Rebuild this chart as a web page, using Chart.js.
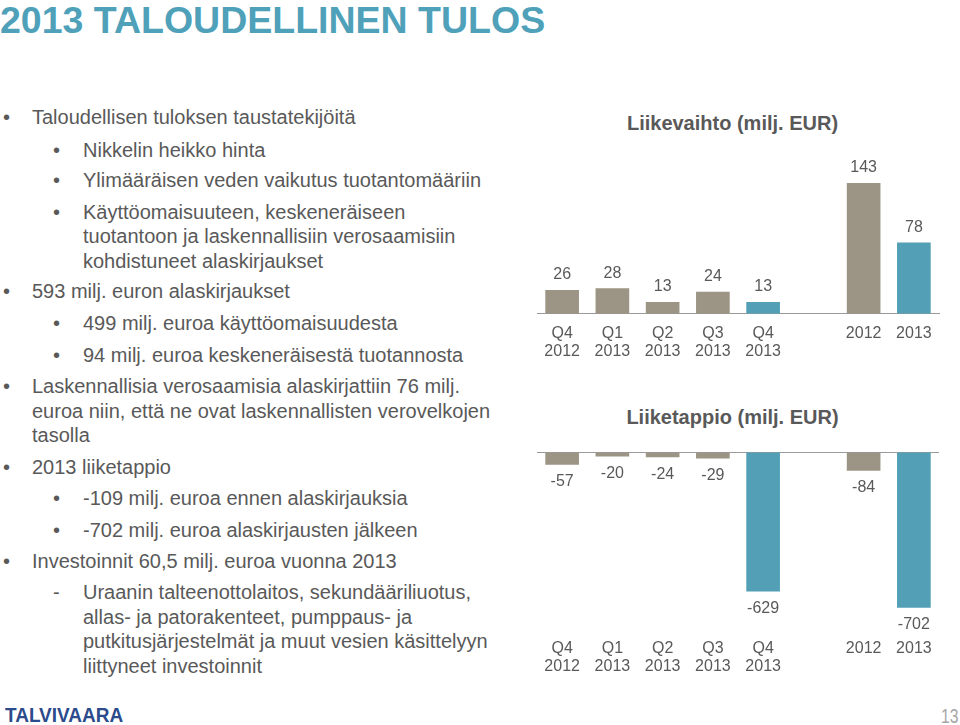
<!DOCTYPE html>
<html>
<head>
<meta charset="utf-8">
<script src="https://cdn.jsdelivr.net/npm/chart.js@4"></script>
<style>
  html, body { margin:0; padding:0; background:#fff; }
  body { width:960px; height:725px; position:relative; overflow:hidden; font-family:"Liberation Sans", Arial, sans-serif; }
  #title { position:absolute; left:0px; top:-1.5px; font-size:37.5px; font-weight:bold; color:#4fa1ba; white-space:nowrap; line-height:42px; }
  .p { position:absolute; font-size:20px; color:#595959; line-height:24.5px; white-space:nowrap; }
  .b { position:absolute; font-size:20px; color:#595959; line-height:24.5px; }
  .ct { position:absolute; width:300px; margin-left:-150px; text-align:center; font-size:20px; font-weight:bold; color:#595959; line-height:24px; white-space:nowrap; }
  #logo { position:absolute; left:5px; top:702.5px; font-size:20px; font-weight:bold; color:#2c4b8c; transform:scaleX(0.95); transform-origin:left top; line-height:24px; }
  #pg { position:absolute; left:941px; top:704px; font-size:21px; color:#a6a6a6; line-height:24px; transform:scaleX(0.75); transform-origin:left top; }
  canvas { position:absolute; }
</style>
</head>
<body>
<div id="title">2013 TALOUDELLINEN TULOS</div>
<div id="text"></div>
<div class="ct" id="t1" style="left:732.5px; top:111px;"></div>
<div class="ct" id="t2" style="left:732.5px; top:404.7px;"></div>
<canvas id="c1" style="left:527px; top:100px;" width="422" height="271"></canvas>
<canvas id="c2" style="left:527px; top:390px;" width="422" height="294"></canvas>
<div id="logo">TALVIVAARA</div>
<div id="pg">13</div>
<script>
// ---- data ----
const categories = [["Q4","2012"],["Q1","2013"],["Q2","2013"],["Q3","2013"],["Q4","2013"],"",["2012"],["2013"]];
const revenue = [26, 28, 13, 24, 13, null, 143, 78];
const operatingLoss = [-57, -20, -24, -29, -629, null, -84, -702];
const barColors = ["#9c9585","#9c9585","#9c9585","#9c9585","#53a0b6","#9c9585","#9c9585","#53a0b6"];
const revenueTitle = "Liikevaihto (milj. EUR)";
const lossTitle = "Liiketappio (milj. EUR)";

document.getElementById('t1').textContent = revenueTitle;
document.getElementById('t2').textContent = lossTitle;

// ---- slide text ----
const lines = [
  {lvl:1, y:117.3, mark:"•", t:"Taloudellisen tuloksen taustatekijöitä"},
  {lvl:2, y:150, mark:"•", t:"Nikkelin heikko hinta"},
  {lvl:2, y:180.7, mark:"•", t:"Ylimääräisen veden vaikutus tuotantomääriin"},
  {lvl:2, y:212, mark:"•", t:"Käyttöomaisuuteen, keskeneräiseen<br>tuotantoon ja laskennallisiin verosaamisiin<br>kohdistuneet alaskirjaukset"},
  {lvl:1, y:291.7, mark:"•", t:"593 milj. euron alaskirjaukset"},
  {lvl:2, y:323.3, mark:"•", t:"499 milj. euroa käyttöomaisuudesta"},
  {lvl:2, y:355, mark:"•", t:"94 milj. euroa keskeneräisestä tuotannosta"},
  {lvl:1, y:386.7, mark:"•", t:"Laskennallisia verosaamisia alaskirjattiin 76 milj.<br>euroa niin, että ne ovat laskennallisten verovelkojen<br>tasolla"},
  {lvl:1, y:467.3, mark:"•", t:"2013 liiketappio"},
  {lvl:2, y:498.3, mark:"•", t:"-109 milj. euroa ennen alaskirjauksia"},
  {lvl:2, y:530, mark:"•", t:"-702 milj. euroa alaskirjausten jälkeen"},
  {lvl:1, y:561, mark:"•", t:"Investoinnit 60,5 milj. euroa vuonna 2013"},
  {lvl:2, y:592.3, mark:"-", t:"Uraanin talteenottolaitos, sekundääriliuotus,<br>allas- ja patorakenteet, pumppaus- ja<br>putkitusjärjestelmät ja muut vesien käsittelyyn<br>liittyneet investoinnit"}
];
const tc = document.getElementById('text');
lines.forEach(l => {
  const top = l.y - 12.25;
  const b = document.createElement('div');
  b.className = 'b';
  b.style.top = top + 'px';
  b.style.left = (l.lvl === 1 ? 3 : 53) + 'px';
  b.textContent = l.mark;
  tc.appendChild(b);
  const p = document.createElement('div');
  p.className = 'p';
  p.style.top = top + 'px';
  p.style.left = (l.lvl === 1 ? 32 : 83) + 'px';
  p.innerHTML = l.t;
  tc.appendChild(p);
});

// ---- value label plugin ----
const valueLabels = {
  id: 'valueLabels',
  afterDatasetsDraw(chart) {
    const ctx = chart.ctx;
    const meta = chart.getDatasetMeta(0);
    const data = chart.data.datasets[0].data;
    ctx.save();
    ctx.font = '16px "Liberation Sans", Arial, sans-serif';
    ctx.fillStyle = '#595959';
    ctx.textAlign = 'center';
    ctx.textBaseline = 'middle';
    meta.data.forEach((el, i) => {
      const v = data[i];
      if (v === null || v === undefined) return;
      const y = v >= 0 ? el.y - 15 : el.y + 17;
      ctx.fillText(String(v), el.x, y);
    });
    ctx.restore();
  }
};

Chart.defaults.font.family = '"Liberation Sans", Arial, sans-serif';
Chart.defaults.color = '#595959';

function makeChart(id, data, yMin, yMax, padTop, tickPad, zeroLineGrid) {
  return new Chart(document.getElementById(id), {
    type: 'bar',
    data: {
      labels: categories,
      datasets: [{ data: data, backgroundColor: barColors, categoryPercentage: 1, barPercentage: 0.67 }]
    },
    options: {
      responsive: false,
      animation: false,
      layout: { padding: { left: 10, right: 10, top: padTop, bottom: 0 } },
      plugins: {
        legend: { display: false },
        tooltip: { enabled: false },
        title: { display: false }
      },
      scales: {
        x: {
          grid: { display: false, drawTicks: false },
          border: { display: !zeroLineGrid, color: '#9a9a9a', width: 1 },
          ticks: { padding: tickPad, font: { size: 16, lineHeight: 1.1 }, color: '#595959', maxRotation: 0, autoSkip: false }
        },
        y: {
          display: zeroLineGrid,
          min: yMin, max: yMax,
          ticks: { display: false },
          border: { display: false },
          grid: { drawTicks: false, color: (c) => (c.tick && c.tick.value === 0) ? '#9a9a9a' : 'rgba(0,0,0,0)', lineWidth: 1 }
        }
      }
    },
    plugins: [valueLabels]
  });
}

makeChart('c1', revenue, 0, 179, 50, 11, false);
makeChart('c2', operatingLoss, -806, 0, 62, 9, true);
</script>
</body>
</html>
